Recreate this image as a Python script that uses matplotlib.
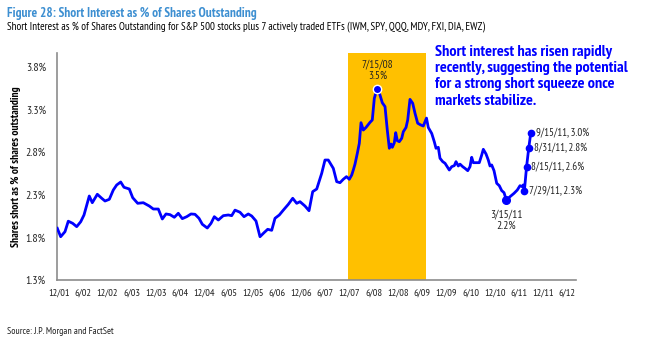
import matplotlib
matplotlib.use("Agg")
import matplotlib.pyplot as plt
from matplotlib import font_manager as fm

names = {f.name for f in fm.fontManager.ttflist}
NARROW = next((n for n in ["PT Sans Narrow", "Archivo Narrow", "Roboto Condensed", "Liberation Sans"]
               if n in names), "DejaVu Sans")
plt.rcParams["font.family"] = [NARROW, "DejaVu Sans"]

# ---- data (decimal year, short interest %) ----
dates = [2001.923, 2001.993, 2002.082, 2002.150, 2002.241, 2002.324, 2002.407, 2002.475,
         2002.531, 2002.584, 2002.646, 2002.750, 2002.841, 2002.909, 2002.998, 2003.080,
         2003.150, 2003.233, 2003.301, 2003.411, 2003.481, 2003.584, 2003.700, 2003.824,
         2003.907, 2004.010, 2004.093, 2004.169, 2004.252, 2004.341, 2004.423, 2004.506,
         2004.597, 2004.686, 2004.768, 2004.851, 2004.919, 2005.022, 2005.099, 2005.167,
         2005.250, 2005.353, 2005.456, 2005.526, 2005.595, 2005.698, 2005.781, 2005.869,
         2005.940, 2006.029, 2006.111, 2006.194, 2006.270, 2006.353, 2006.421, 2006.510,
         2006.593, 2006.696, 2006.787, 2006.869, 2006.938, 2007.041, 2007.124, 2007.200,
         2007.283, 2007.386, 2007.454, 2007.522, 2007.626, 2007.696, 2007.764, 2007.832,
         2007.898, 2007.956, 2008.006, 2008.039, 2008.074, 2008.122, 2008.163, 2008.198,
         2008.246, 2008.301, 2008.384, 2008.431, 2008.473, 2008.502, 2008.537, 2008.591,
         2008.638, 2008.694, 2008.741, 2008.783, 2008.818, 2008.845, 2008.886, 2008.915,
         2008.948, 2008.989, 2009.039, 2009.072, 2009.128, 2009.163, 2009.210, 2009.266,
         2009.314, 2009.369, 2009.431, 2009.485, 2009.551, 2009.588, 2009.659, 2009.712,
         2009.748, 2009.795, 2009.830, 2009.886, 2009.934, 2009.969, 2010.022, 2010.072,
         2010.126, 2010.161, 2010.208, 2010.243, 2010.299, 2010.347, 2010.403, 2010.450,
         2010.485, 2010.518, 2010.580, 2010.642, 2010.692, 2010.725, 2010.781, 2010.828,
         2010.863, 2010.898, 2010.946, 2011.002, 2011.055, 2011.105, 2011.153, 2011.203,
         2011.277, 2011.359, 2011.427, 2011.483, 2011.531, 2011.548, 2011.573, 2011.619,
         2011.663, 2011.704]
values = [1.907, 1.808, 1.867, 1.990, 1.965, 1.926, 1.984, 2.063,
          2.180, 2.286, 2.207, 2.306, 2.259, 2.227, 2.247, 2.356,
          2.415, 2.450, 2.388, 2.368, 2.266, 2.200, 2.207, 2.168,
          2.133, 2.133, 2.016, 2.075, 2.067, 2.036, 2.083, 2.020,
          2.043, 2.075, 2.071, 2.024, 1.954, 1.910, 1.965, 2.043,
          2.004, 2.055, 2.063, 2.055, 2.120, 2.095, 2.043, 2.075,
          2.051, 1.992, 1.808, 1.855, 1.895, 1.883, 2.024, 2.063,
          2.120, 2.188, 2.259, 2.200, 2.219, 2.168, 2.113, 2.337,
          2.368, 2.552, 2.708, 2.708, 2.610, 2.454, 2.442, 2.482,
          2.513, 2.482, 2.532, 2.591, 2.660, 2.787, 2.904, 3.146,
          3.060, 3.090, 3.150, 3.178, 3.432, 3.490, 3.540, 3.470,
          3.380, 3.335, 3.060, 2.846, 2.896, 2.857, 2.910, 3.029,
          2.935, 2.923, 2.963, 3.040, 3.090, 3.178, 3.420, 3.374,
          3.256, 3.140, 3.120, 3.107, 3.200, 3.090, 3.020, 2.923,
          2.846, 2.857, 2.729, 2.689, 2.670, 2.638, 2.591, 2.630,
          2.642, 2.689, 2.638, 2.660, 2.630, 2.610, 2.583, 2.630,
          2.740, 2.677, 2.677, 2.677, 2.767, 2.834, 2.779, 2.708,
          2.638, 2.650, 2.583, 2.435, 2.407, 2.349, 2.325, 2.235,
          2.278, 2.317, 2.356, 2.407, 2.395, 2.415, 2.345, 2.630,
          2.846, 3.020]

tick_labels = ["12/01", "6/02", "12/02", "6/03", "12/03", "6/04", "12/04", "6/05",
               "12/05", "6/06", "12/06", "6/07", "12/07", "6/08", "12/08", "6/09",
               "12/09", "6/10", "12/10", "6/11", "12/11", "6/12"]
tick_pos = [2001.96 + 0.5 * i for i in range(len(tick_labels))]
yticks = [1.3, 1.8, 2.3, 2.8, 3.3, 3.8]

recession = (2007.93, 2009.54)

callouts = [  # (date, value, text)
    (2011.573, 2.345, "7/29/11, 2.3%"),
    (2011.619, 2.630, "8/15/11, 2.6%"),
    (2011.663, 2.846, "8/31/11, 2.8%"),
    (2011.704, 3.020, "9/15/11, 3.0%"),
]

BLUE = "#0000FF"
TXT = "#222222"

fig = plt.figure(figsize=(6.53, 3.54), dpi=100)
ax = fig.add_axes([57 / 653, 1 - 280 / 354, (576 - 57) / 653, (280 - 53) / 354])

ax.axvspan(recession[0], recession[1], color="#FFC000", lw=0, zorder=0)
ax.plot(dates, values, color=BLUE, lw=2.0, zorder=3, solid_joinstyle="round")

# peak and trough markers
ipk = values.index(max(values))
ax.plot(dates[ipk], values[ipk], "o", ms=6, mfc=BLUE, mec="white", mew=1, zorder=4)
ax.annotate("7/15/08\n3.5%", (dates[ipk], values[ipk]), xytext=(0, 6),
            textcoords="offset points", ha="center", va="bottom", fontsize=8,
            color=TXT, linespacing=1.05)
itr = dates.index(2011.203)
ax.plot(dates[itr], values[itr], "o", ms=5.5, mfc=BLUE, mec=BLUE, zorder=4)
ax.annotate("3/15/11\n2.2%", (dates[itr], values[itr]), xytext=(0, -7),
            textcoords="offset points", ha="center", va="top", fontsize=8.2,
            color=TXT, linespacing=1.05)
for d, v, t in callouts:
    ax.plot(d, v, "o", ms=4.5, color=BLUE, zorder=4)
    ax.annotate(t, (d, v), xytext=(3.5, 0), textcoords="offset points",
                ha="left", va="center", fontsize=7.8, color=TXT)

ax.set_xlim(2001.917, 2012.64)
ax.set_ylim(1.3, 3.964)
ax.set_xticks(tick_pos)
ax.set_xticklabels(tick_labels, fontsize=7.5)
ax.set_yticks(yticks)
ax.set_yticklabels([f"{y:.1f}%" for y in yticks], fontsize=8.5)
ax.tick_params(axis="x", length=0, pad=6, colors=TXT)
ax.tick_params(axis="y", length=0, pad=8, colors=TXT)
for s in ["top", "right"]:
    ax.spines[s].set_visible(False)
for s in ["left", "bottom"]:
    ax.spines[s].set_color("#8c8c8c")
    ax.spines[s].set_linewidth(1.2)
ax.set_ylabel("Shares short as % of shares outstanding", fontsize=8.2,
              fontweight="bold", labelpad=3)

fig.text(7 / 653, 1 - 13 / 354, "Figure 28: Short Interest as % of Shares Outstanding",
         fontsize=9.5, fontweight="bold", color="#3D8FD1", va="center", ha="left")
fig.text(7 / 653, 1 - 27 / 354,
         "Short Interest as % of Shares Outstanding for S&P 500 stocks plus 7 actively traded ETFs (IWM, SPY, QQQ, MDY, FXI, DIA, EWZ)",
         fontsize=7.9, color="black", va="center", ha="left")
fig.text(435 / 653, 1 - 45 / 354,
         "Short interest has risen rapidly\nrecently, suggesting the potential\nfor a strong short squeeze once\nmarkets stabilize.",
         fontsize=11.6, fontweight="bold", color=BLUE, va="top", ha="left", linespacing=1.2)
fig.text(7 / 653, 1 - 332 / 354, "Source: J.P. Morgan and FactSet",
         fontsize=7, color=TXT, va="center", ha="left")

fig.savefig("out.png", dpi=100)
